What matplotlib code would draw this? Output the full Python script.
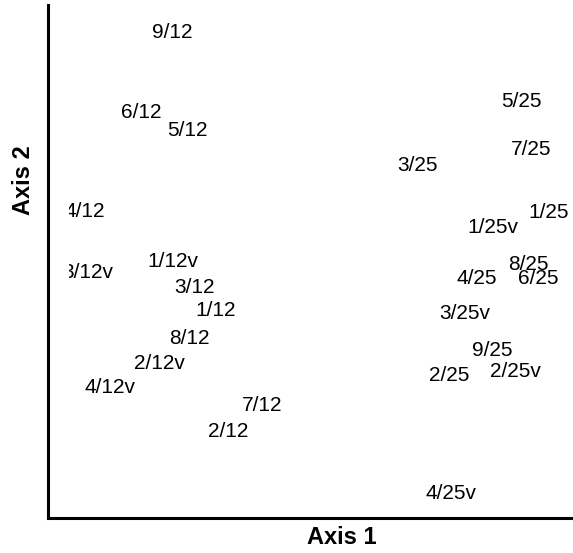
import matplotlib.pyplot as plt
from matplotlib.transforms import Bbox

# ordination scores (arbitrary 0-100 units)
labels = ["9/12", "6/12", "5/12", "5/25", "7/25", "3/25", "4/12", "1/25v", "1/25",
          "3/12v", "1/12v", "3/12", "8/25", "4/25", "6/25", "1/12", "3/25v", "8/12",
          "9/25", "2/12v", "2/25", "2/25v", "4/12v", "7/12", "2/12", "4/25v"]
axis1 = [20.9, 14.8, 23.9, 89.9, 91.7, 69.4, 3.6, 84.2, 95.1,
         4.3, 21.1, 25.4, 91.1, 81.1, 93.1, 29.6, 78.7, 24.3,
         84.0, 18.5, 75.5, 88.6, 8.7, 38.7, 32.0, 75.9]
axis2 = [95.1, 79.5, 76.0, 81.5, 72.3, 69.2, 60.2, 57.1, 60.0,
         48.3, 50.3, 45.4, 49.9, 47.0, 47.0, 40.9, 40.2, 35.3,
         33.1, 30.6, 28.1, 29.0, 25.9, 22.4, 17.2, 5.1]

W, H = 573, 553
fig = plt.figure(figsize=(W / 100, H / 100), dpi=100)
ax = fig.add_axes([48 / W, 35 / H, (W - 48) / W, 513 / H])
ax.set_xlim(-3.55, 100)
ax.set_ylim(0, 100)

# labels are cut off a little to the right of the vertical axis
clip = Bbox([[69 / W, 35 / H], [1, 1]])
for lab, x, y in zip(labels, axis1, axis2):
    t = ax.text(x, y, lab, ha="center", va="center_baseline", fontsize=15,
                family="Liberation Sans")
    t.set_clip_path(None)
    t.set_clip_box(fig.transFigure.transform_bbox(clip))
    t.set_clip_on(True)

# only left and bottom axis lines, no ticks
ax.spines["top"].set_visible(False)
ax.spines["right"].set_visible(False)
for s in ["left", "bottom"]:
    ax.spines[s].set_linewidth(2.2)
ax.set_xticks([])
ax.set_yticks([])
ax.patch.set_visible(False)

fig.text(342 / W, 1 - 537 / H, "Axis 1", ha="center", va="center",
         fontsize=17, fontweight="bold", family="Liberation Sans")
fig.text(23 / W, 1 - 180 / H, "Axis 2", ha="center", va="center", rotation=90,
         fontsize=17, fontweight="bold", family="Liberation Sans")

fig.savefig("out.png", dpi=100)
